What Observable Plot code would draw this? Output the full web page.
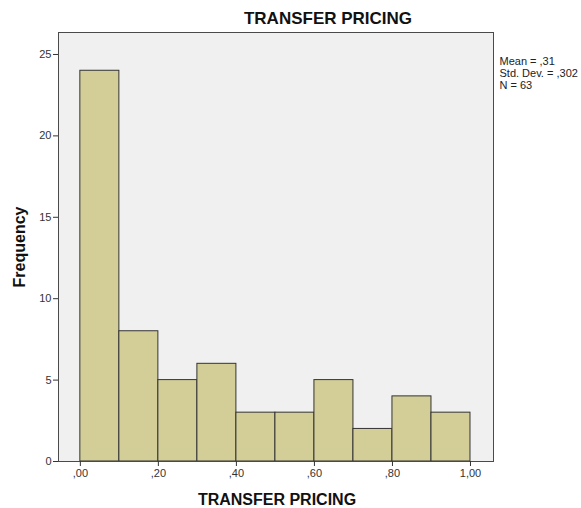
<!DOCTYPE html>
<html>
<head>
<meta charset="utf-8">
<script src="https://cdn.jsdelivr.net/npm/d3@7"></script>
<script src="https://cdn.jsdelivr.net/npm/@observablehq/plot@0.6"></script>
<style>
  html, body { margin: 0; padding: 0; background: #fff; }
  svg { display: block; }
</style>
</head>
<body>
<div id="chart"></div>
<script>
// Data
const binStarts = [0.0, 0.1, 0.2, 0.3, 0.4, 0.5, 0.6, 0.7, 0.8, 0.9];
const binEnds   = [0.1, 0.2, 0.3, 0.4, 0.5, 0.6, 0.7, 0.8, 0.9, 1.0];
const frequencies = [24, 8, 5, 6, 3, 3, 5, 2, 4, 3];
const xTicks = [0, 0.2, 0.4, 0.6, 0.8, 1.0];
const yTicks = [0, 5, 10, 15, 20, 25];
const chartTitle = "TRANSFER PRICING";
const xLabel = "TRANSFER PRICING";
const yLabel = "Frequency";
const statsLines = ["Mean = ,31", "Std. Dev. = ,302", "N = 63"];

const bins = binStarts.map((s, i) => ({x1: s, x2: binEnds[i], y: frequencies[i]}));
const fmtX = d => d3.format(".2f")(d).replace(/^0/, "").replace(".", ",");

const chart = Plot.plot({
  width: 581,
  height: 508,
  marginLeft: 58,
  marginRight: 88,
  marginTop: 32,
  marginBottom: 47,
  style: {fontFamily: "Arial, 'Liberation Sans', sans-serif", fontSize: "11px", color: "#333", background: "#fff"},
  x: {domain: [-0.056, 1.059]},
  y: {domain: [0, 26.35]},
  marks: [
    Plot.frame({fill: "#f0f0f0", stroke: "none"}),
    Plot.rectY(bins, {x1: "x1", x2: "x2", y: "y", fill: "#d3ce98", stroke: "#333", strokeWidth: 1}),
    Plot.frame({stroke: "#4a4a4a", strokeWidth: 1}),
    Plot.axisY({ticks: yTicks, tickSize: 5, tickPadding: 2, label: null, stroke: "#333", fill: "#333", fontSize: 11}),
    Plot.axisX({ticks: xTicks, tickSize: 5, tickPadding: 3, tickFormat: fmtX, label: null, stroke: "#333", fill: "#333", fontSize: 11}),
    Plot.text([chartTitle], {text: d => d, frameAnchor: "top", textAnchor: "middle", dx: 52, dy: -14, fontSize: 17, fontWeight: "bold", fill: "#111", lineAnchor: "middle"}),
    Plot.text([xLabel], {text: d => d, frameAnchor: "bottom", textAnchor: "middle", dx: 1, dy: 38, fontSize: 16, fontWeight: "bold", fill: "#111", lineAnchor: "middle"}),
    Plot.text([yLabel], {text: d => d, frameAnchor: "left", textAnchor: "middle", dx: -39, dy: 0, rotate: -90, fontSize: 16, fontWeight: "bold", fill: "#111", lineAnchor: "middle"}),
    Plot.text([statsLines.join("\n")], {text: d => d, frameAnchor: "top-right", dx: 6, dy: 24, textAnchor: "start", lineAnchor: "top", lineHeight: 1.09, fontSize: 11, fill: "#222"})
  ]
});
document.getElementById("chart").append(chart);
</script>
</body>
</html>
